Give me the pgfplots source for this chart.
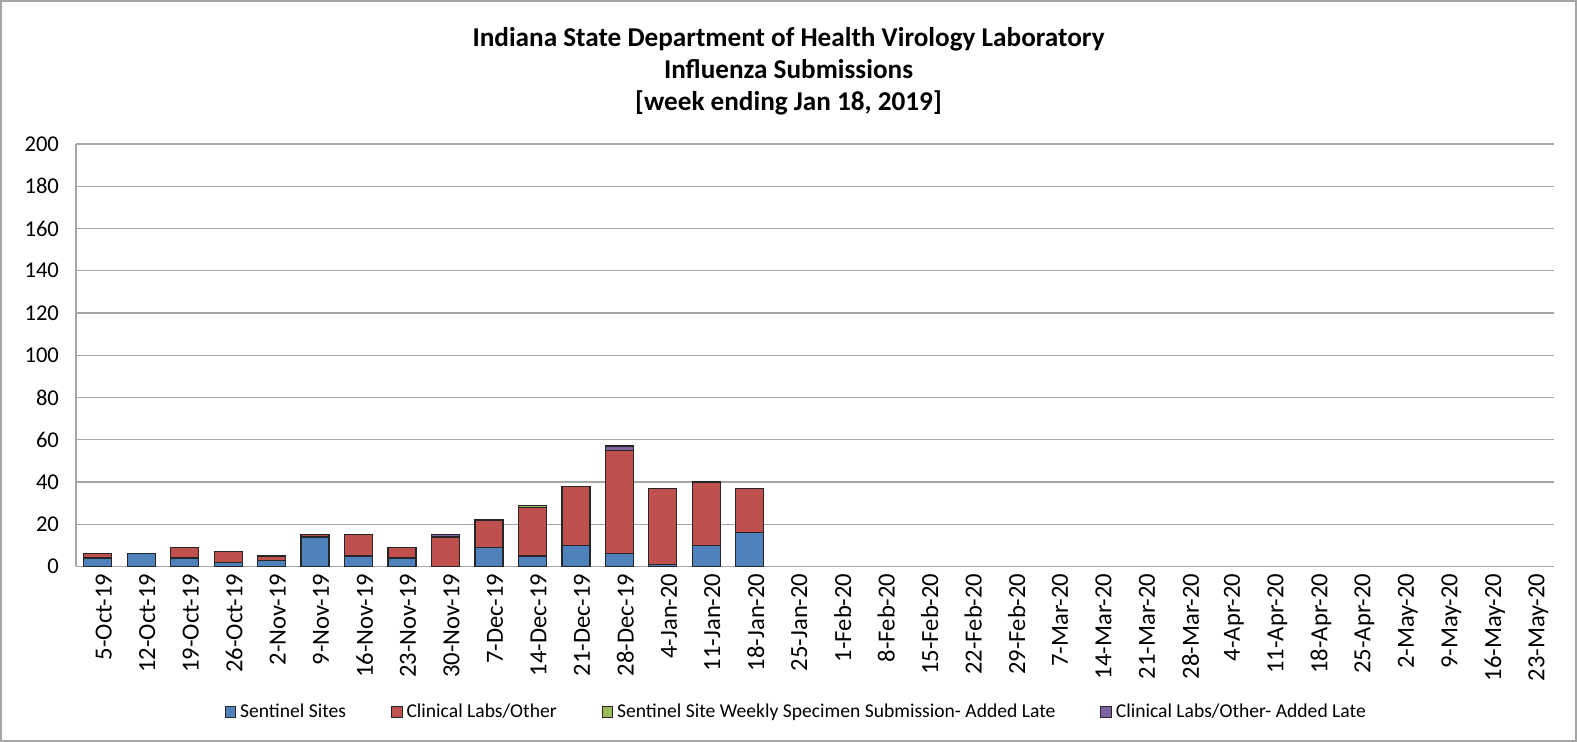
\documentclass[border=0pt]{standalone}
\usepackage{pgfplots}
\pgfplotsset{compat=1.18}
\usepackage{fontspec}
\setmainfont{Carlito}
\definecolor{cblue}{HTML}{4F81BD}
\definecolor{cred}{HTML}{C0504D}
\definecolor{cgreen}{HTML}{9BBB59}
\definecolor{cpurple}{HTML}{8064A2}
\definecolor{gridc}{HTML}{A6A6A6}
\begin{document}
\begin{tikzpicture}
\draw[gray!70, line width=0.8pt] (0.4pt,0.4pt) rectangle (788.1pt,370.6pt);
\node[font=\fontsize{13.6}{16}\selectfont\bfseries, align=center] at (394.25pt,335.5pt)
  {Indiana State Department of Health Virology Laboratory\\Influenza Submissions\\{[}week ending Jan 18, 2019{]}};
\begin{axis}[
  at={(38pt,87.75pt)}, anchor=south west,
  scale only axis, width=739pt, height=211.25pt,
  ybar stacked, bar width=14pt,
  xmin=-0.5, xmax=33.5, ymin=0, ymax=200,
  xtick={0,...,33},
  xticklabels={5-Oct-19,12-Oct-19,19-Oct-19,26-Oct-19,2-Nov-19,9-Nov-19,16-Nov-19,23-Nov-19,30-Nov-19,7-Dec-19,14-Dec-19,21-Dec-19,28-Dec-19,4-Jan-20,11-Jan-20,18-Jan-20,25-Jan-20,1-Feb-20,8-Feb-20,15-Feb-20,22-Feb-20,29-Feb-20,7-Mar-20,14-Mar-20,21-Mar-20,28-Mar-20,4-Apr-20,11-Apr-20,18-Apr-20,25-Apr-20,2-May-20,9-May-20,16-May-20,23-May-20},
  xticklabel style={rotate=90, anchor=east, font=\fontsize{12.3}{14}\selectfont, yshift=-3pt},
  ytick={0,20,...,200},
  yticklabel style={font=\fontsize{11.3}{13}\selectfont, xshift=-5pt},
  /pgf/number format/assume math mode=true,
  major tick length=0pt,
  ymajorgrids, grid style={gridc, line width=0.6pt},
  axis x line*=bottom, axis y line*=left,
  axis line style={gridc, line width=0.7pt, -},
  every axis plot/.append style={draw=black!85, line width=0.6pt},
  legend style={at={(0.488,-0.3444)}, anchor=center, draw=none, fill=none,
    font=\fontsize{9.8}{12}\selectfont, legend columns=4,
    /tikz/every even column/.append style={column sep=20.5pt}},
  legend image code/.code={\draw[#1, line width=0.5pt] (0pt,-2.6pt) rectangle (5.2pt,2.6pt);},
]
\addplot[fill=cblue] coordinates {(0,4) (1,6) (2,4) (3,2) (4,3) (5,14) (6,5) (7,4) (8,0) (9,9) (10,5) (11,10) (12,6) (13,1) (14,10) (15,16)};
\addplot[fill=cred] coordinates {(0,2) (1,0) (2,5) (3,5) (4,2) (5,1) (6,10) (7,5) (8,14) (9,13) (10,23) (11,28) (12,49) (13,36) (14,30) (15,21)};
\addplot[fill=cgreen] coordinates {(0,0) (1,0) (2,0) (3,0) (4,0) (5,0) (6,0) (7,0) (8,0) (9,0) (10,1) (11,0) (12,0) (13,0) (14,0) (15,0)};
\addplot[fill=cpurple] coordinates {(0,0) (1,0) (2,0) (3,0) (4,0) (5,0) (6,0) (7,0) (8,1) (9,0) (10,0) (11,0) (12,2) (13,0) (14,0) (15,0)};
\legend{Sentinel Sites, Clinical Labs/Other, Sentinel Site Weekly Specimen Submission- Added Late, Clinical Labs/Other- Added Late}
\end{axis}
\end{tikzpicture}
\end{document}
